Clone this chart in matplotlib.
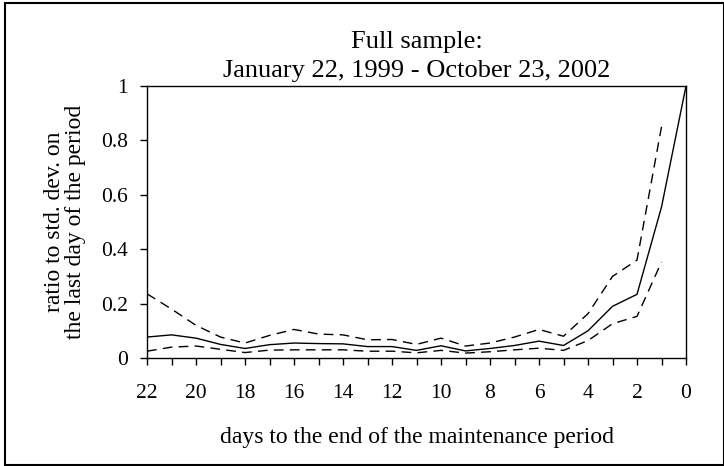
import matplotlib
matplotlib.use("Agg")
import matplotlib.pyplot as plt
from matplotlib.patches import Rectangle

days = [22, 21, 20, 19, 18, 17, 16, 15, 14, 13, 12, 11, 10, 9, 8, 7, 6, 5, 4, 3, 2, 1, 0]
ratio_mid = [0.077, 0.085, 0.073, 0.050, 0.035, 0.049, 0.055, 0.053, 0.052, 0.042, 0.042,
             0.028, 0.045, 0.026, 0.035, 0.046, 0.062, 0.046, 0.100, 0.190, 0.234, 0.555, 1.0]
days_band = days[:-1]
ratio_upper = [0.236, 0.180, 0.120, 0.077, 0.055, 0.083, 0.105, 0.088, 0.085, 0.067, 0.068,
               0.050, 0.073, 0.044, 0.055, 0.077, 0.105, 0.080, 0.163, 0.300, 0.360, 0.850]
ratio_lower = [0.025, 0.040, 0.044, 0.032, 0.020, 0.029, 0.030, 0.030, 0.030, 0.025, 0.025,
               0.019, 0.028, 0.018, 0.023, 0.030, 0.036, 0.028, 0.064, 0.126, 0.153, 0.353]
xtick_vals = [22, 20, 18, 16, 14, 12, 10, 8, 6, 4, 2, 0]
ytick_vals = [0, 0.2, 0.4, 0.6, 0.8, 1]
ytick_labels = ["0", "0.2", "0.4", "0.6", "0.8", "1"]

plt.rcParams['font.family'] = ['Liberation Serif', 'DejaVu Serif']

W, H = 724, 466
fig = plt.figure(figsize=(W / 100, H / 100), dpi=100)
ax = fig.add_axes([147 / W, 1 - 358 / H, (686 - 147) / W, (358 - 86) / H])

dash = (0, (7, 4.5))
ax.plot(days, ratio_mid, color='black', lw=1.0, solid_joinstyle='miter')
ax.plot(days_band, ratio_upper, color='black', lw=1.0, linestyle=dash)
ax.plot(days_band, ratio_lower, color='black', lw=1.0, linestyle=dash)

ax.set_xlim(22, 0)
ax.set_ylim(0, 1)
ax.set_xticks(days, minor=True)
ax.set_xticks(xtick_vals)
ax.set_xticklabels([str(v) for v in xtick_vals])
ax.set_yticks(ytick_vals)
ax.set_yticklabels(ytick_labels)
ax.tick_params(axis='x', which='both', direction='out', length=5, width=1, pad=14, labelsize=15.5)
ax.tick_params(axis='x', which='minor', length=5)
ax.tick_params(axis='y', direction='out', length=5, width=1, pad=8.5, labelsize=15.5)
for s in ax.spines.values():
    s.set_linewidth(1.0)
    s.set_color('black')

ax.set_xlabel("days to the end of the maintenance period", fontsize=17, labelpad=17)
ax.set_ylabel("ratio to std. dev. on\nthe last day of the period", fontsize=17, labelpad=11,
              linespacing=1.0)
ax.set_title("Full sample:\nJanuary 22, 1999 - October 23, 2002", fontsize=19, pad=6.5,
             linespacing=1.4)

fig.patches.append(Rectangle((5 / W, 1 - 465 / H), (723.5 - 5) / W, (465 - 3) / H,
                             transform=fig.transFigure, fill=False, edgecolor='black',
                             lw=1.5, figure=fig))

fig.savefig("out.png", dpi=100)
